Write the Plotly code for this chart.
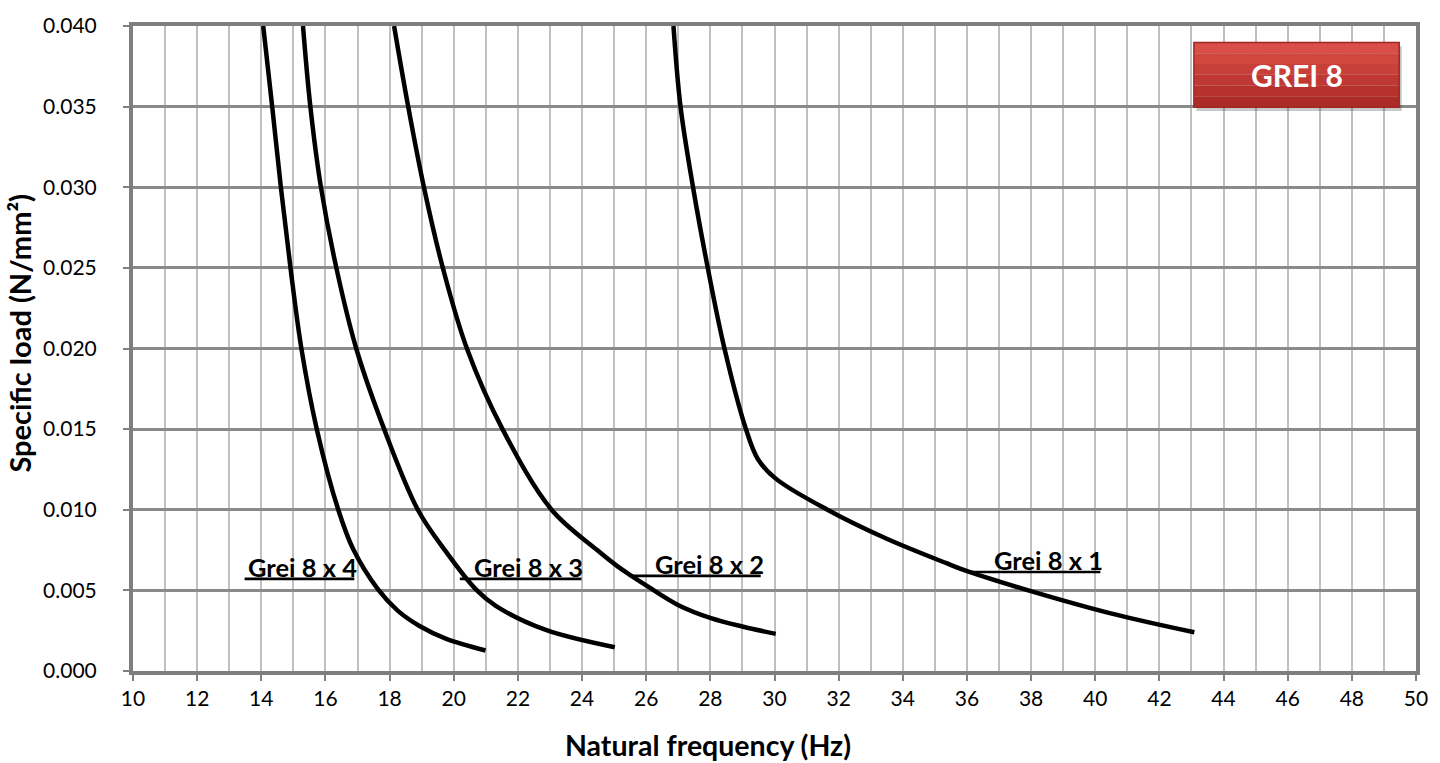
import plotly.graph_objects as go

# ---- data ----
freq_x4 = [14.06, 14.34, 14.61, 14.91, 15.25, 15.73, 16.40, 16.87, 17.64, 18.26, 18.92, 19.75, 20.99]
load_x4 = [0.040, 0.035, 0.030, 0.025, 0.020, 0.015, 0.010, 0.00753, 0.00506, 0.00373, 0.00281, 0.00201, 0.00127]

freq_x3 = [15.30, 15.53, 15.86, 16.34, 16.96, 17.83, 18.88, 19.72, 20.69, 21.31, 22.85, 25.02]
load_x3 = [0.040, 0.035, 0.030, 0.025, 0.020, 0.015, 0.010, 0.0075, 0.00506, 0.00404, 0.00256, 0.00147]

freq_x2 = [18.14, 18.58, 19.07, 19.66, 20.41, 21.52, 23.05, 24.47, 25.12, 25.54, 26.06, 26.99, 28.02, 29.06, 30.04]
load_x2 = [0.040, 0.035, 0.030, 0.025, 0.020, 0.015, 0.010, 0.0075, 0.00647, 0.00590, 0.00523, 0.00410, 0.00328, 0.00273, 0.00230]

freq_x1 = [26.85, 27.07, 27.46, 27.92, 28.44, 29.11, 29.48, 30.04, 31.65, 33.50, 35.38, 36.05, 37.86, 40.45, 43.09]
load_x1 = [0.040, 0.035, 0.030, 0.025, 0.020, 0.015, 0.01315, 0.01193, 0.0100, 0.0082, 0.00667, 0.00616, 0.00503, 0.00359, 0.00240]

series_names = ["Grei 8 x 4", "Grei 8 x 3", "Grei 8 x 2", "Grei 8 x 1"]
x_tick_vals = list(range(10, 51, 2))
y_tick_vals = [0.000, 0.005, 0.010, 0.015, 0.020, 0.025, 0.030, 0.035, 0.040]
y_tick_text = ["0.000", "0.005", "0.010", "0.015", "0.020", "0.025", "0.030", "0.035", "0.040"]
x_title = "Natural frequency (Hz)"
y_title = "Specific load (N/mm²)"
badge_text = "GREI 8"

# label placement (underline start/end x, underline y, text right x, text centre y)
label_pos = [
    (13.48, 16.90, 0.00571, 17.05, 0.00648),
    (20.19, 23.98, 0.00571, 24.10, 0.00648),
    (25.53, 29.57, 0.00590, 29.72, 0.00666),
    (36.09, 40.16, 0.00614, 40.31, 0.00688),
]

FONT = "Lato"
fig = go.Figure()
for fx, ly in [(freq_x4, load_x4), (freq_x3, load_x3), (freq_x2, load_x2), (freq_x1, load_x1)]:
    fig.add_trace(go.Scatter(x=fx, y=ly, mode="lines",
                             line=dict(color="black", width=4.5, shape="spline", smoothing=1.0),
                             showlegend=False, hoverinfo="skip"))

annotations = []
shapes = []
for name, (ux0, ux1, uy, tx, ty) in zip(series_names, label_pos):
    shapes.append(dict(type="line", xref="x", yref="y", x0=ux0, x1=ux1, y0=uy, y1=uy,
                       line=dict(color="black", width=2.7), layer="above"))
    annotations.append(dict(x=tx, y=ty, xref="x", yref="y", text="<b>%s</b>" % name,
                            showarrow=False, xanchor="right", yanchor="middle",
                            font=dict(family=FONT, size=25.5, color="black")))

# badge (paper coordinates)
bx0, bx1, by0, by1 = 0.8269, 0.9869, 0.8742, 0.9746
shapes.append(dict(type="rect", xref="paper", yref="paper", x0=bx0 + 0.002, x1=bx1 + 0.002,
                   y0=by0 - 0.006, y1=by1 - 0.006, fillcolor="rgba(0,0,0,0.22)",
                   line=dict(width=0), layer="above"))
bands = ["#ad2b27", "#b7312d", "#c03833", "#c93f39", "#d1463f", "#d94e47"]
nb = len(bands)
for i, c in enumerate(bands):
    shapes.append(dict(type="rect", xref="paper", yref="paper", x0=bx0, x1=bx1,
                       y0=by0 + (by1 - by0) * i / nb, y1=by0 + (by1 - by0) * (i + 1) / nb,
                       fillcolor=c, line=dict(width=0), layer="above"))
shapes.append(dict(type="rect", xref="paper", yref="paper", x0=bx0, x1=bx1, y0=by0, y1=by1,
                   fillcolor="rgba(0,0,0,0)", line=dict(color="#9e2723", width=1.5), layer="above"))
annotations.append(dict(x=(bx0 + bx1) / 2, y=(by0 + by1) / 2, xref="paper", yref="paper",
                        xanchor="center", yanchor="middle",
                        text="<b>%s</b>" % badge_text, showarrow=False,
                        font=dict(family=FONT, size=30, color="white")))

annotations.append(dict(x=0.448, y=-0.115, xref="paper", yref="paper", text="<b>%s</b>" % x_title,
                        xanchor="center", yanchor="middle",
                        showarrow=False, font=dict(family=FONT, size=28.5, color="black")))
annotations.append(dict(x=-0.0892, y=0.524, xref="paper", yref="paper", text="<b>%s</b>" % y_title,
                        xanchor="center", yanchor="middle",
                        showarrow=False, textangle=-90, font=dict(family=FONT, size=29, color="black")))

fig.update_layout(
    width=1440, height=763,
    margin=dict(l=133, r=19, t=23.5, b=91.5),
    paper_bgcolor="white", plot_bgcolor="white",
    font=dict(family=FONT, size=21, color="black"),
    shapes=shapes, annotations=annotations,
    xaxis=dict(range=[10, 50], tickvals=x_tick_vals, ticks="outside", ticklen=6, tickcolor="#808080",
               tickwidth=1.5, showgrid=True, gridcolor="#c0c0c0", gridwidth=2,
               minor=dict(dtick=1, tick0=10, showgrid=True, gridcolor="#c0c0c0", gridwidth=2),
               showline=True, linecolor="#7f7f7f", linewidth=4, mirror=True, zeroline=False,
               tickfont=dict(family=FONT, size=21)),
    yaxis=dict(range=[0, 0.040], tickvals=y_tick_vals, ticktext=y_tick_text, ticks="outside",
               ticklen=6, tickcolor="#808080", tickwidth=1.5, showgrid=True, gridcolor="#8a8a8a",
               gridwidth=2.5, showline=True, linecolor="#7f7f7f", linewidth=4, mirror=True,
               zeroline=False, ticklabelstandoff=22, tickfont=dict(family=FONT, size=21)),
)

fig.write_html("out.html", config={"displayModeBar": False},
               post_script="document.body.style.margin='0';document.body.style.padding='0';")
